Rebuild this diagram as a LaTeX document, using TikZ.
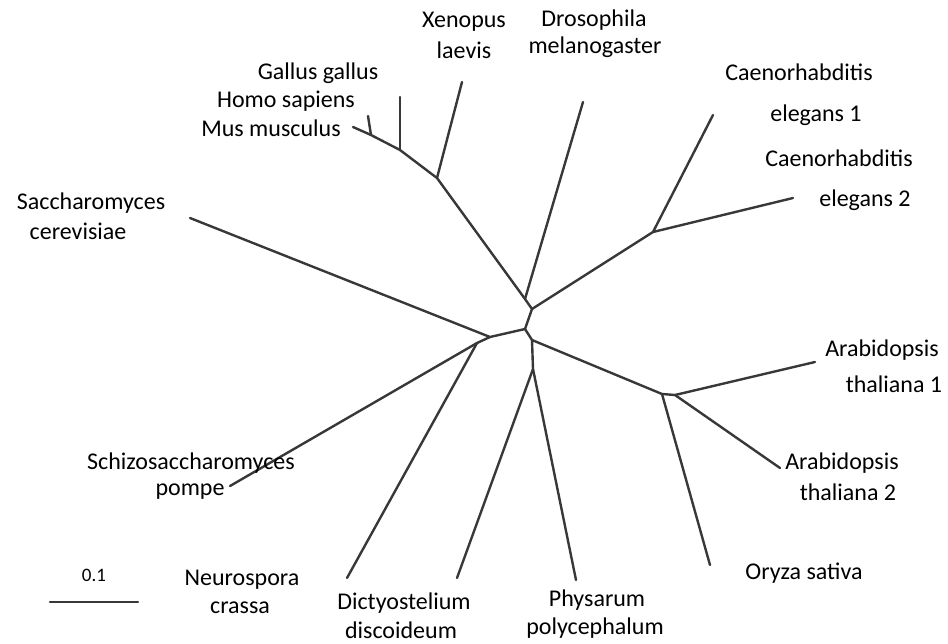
\documentclass[tikz,border=0pt]{standalone}
\usepackage{fontspec}
\setmainfont{Carlito}
\begin{document}
\begin{tikzpicture}[x=1pt,y=-1pt,
  br/.style={draw=black!78,line width=2.4pt,line cap=round,line join=round},
  lbl/.style={inner sep=0pt,font=\fontsize{24}{28}\selectfont}]
\useasboundingbox (0,0) rectangle (948,643);
% internal nodes
\coordinate (N1) at (525,299);
\coordinate (N2) at (532,309);
\coordinate (N3) at (525,329);
\coordinate (F) at (490,337);
\coordinate (F2) at (477,343);
\coordinate (N4) at (532,340);
\coordinate (DP) at (533,369);
\coordinate (P) at (662,394);
\coordinate (P2) at (675,395);
\coordinate (C) at (653,232);
\coordinate (V1) at (437,178);
\coordinate (V2) at (400,150);
\coordinate (V3) at (371,135);
% leaves
\coordinate (Dros) at (583,102);
\coordinate (Xen) at (462,82);
\coordinate (Homo) at (400,97);
\coordinate (Gal) at (368,116);
\coordinate (Mus) at (353,127);
\coordinate (Ce1) at (713,115);
\coordinate (Ce2) at (793,198);
\coordinate (Ara1) at (815,362);
\coordinate (Ara2) at (780,468);
\coordinate (Ory) at (710,565);
\coordinate (Phy) at (576,580);
\coordinate (Dic) at (457,578);
\coordinate (Neu) at (347,578);
\coordinate (Sch) at (230,486);
\coordinate (Sac) at (190,218);
% branches
\draw[br] (Mus) -- (V3) -- (V2) -- (V1) -- (N1) -- (N2) -- (N3) -- (F) -- (Sac);
\draw[br] (Gal) -- (V3);
\draw[br] (Homo) -- (V2);
\draw[br] (Xen) -- (V1);
\draw[br] (Dros) -- (N1);
\draw[br] (N2) -- (C) -- (Ce1);
\draw[br] (C) -- (Ce2);
\draw[br] (F) -- (F2) -- (Sch);
\draw[br] (F2) -- (Neu);
\draw[br] (N3) -- (N4) -- (P) -- (P2) -- (Ara1);
\draw[br] (P2) -- (Ara2);
\draw[br] (P) -- (Ory);
\draw[br] (N4) -- (DP) -- (Dic);
\draw[br] (DP) -- (Phy);
% labels
\node[lbl] (tXen1) at (464,22) {Xenopus};
\node[lbl] (tXen2) at (464,50) {laevis};
\node[lbl] (tDro1) at (594,20) {Drosophila};
\node[lbl] (tDro2) at (595,47) {melanogaster};
\node[lbl] (tGal) at (318,73) {Gallus gallus};
\node[lbl] (tHom) at (286,101) {Homo sapiens};
\node[lbl] (tMus) at (271,128) {Mus musculus};
\node[lbl] (tCe11) at (799,72) {Caenorhabditis};
\node[lbl] (tCe12) at (816,115) {elegans 1};
\node[lbl] (tCe21) at (839,158) {Caenorhabditis};
\node[lbl] (tCe22) at (865,200) {elegans 2};
\node[lbl] (tSac1) at (91,203) {Saccharomyces};
\node[lbl] (tSac2) at (78,231) {cerevisiae};
\node[lbl] (tAr11) at (882,350) {Arabidopsis};
\node[lbl] (tAr12) at (894,384) {thaliana 1};
\node[lbl] (tAr21) at (842,463) {Arabidopsis};
\node[lbl] (tAr22) at (848,492) {thaliana 2};
\node[lbl] (tOry) at (804,573) {Oryza sativa};
\node[lbl] (tPhy1) at (597,600) {Physarum};
\node[lbl] (tPhy2) at (595,628) {polycephalum};
\node[lbl] (tDic1) at (404,603) {Dictyostelium};
\node[lbl] (tDic2) at (401,630) {discoideum};
\node[lbl] (tNeu1) at (242,580) {Neurospora};
\node[lbl] (tNeu2) at (240,608) {crassa};
\node[lbl] (tSch1) at (191,463) {Schizosaccharomyces};
\node[lbl] (tSch2) at (190,492) {pompe};
\node[lbl,font=\fontsize{19}{22}\selectfont] (tSc) at (94,575) {0.1};
\coordinate (s1) at (50,602);
\coordinate (s2) at (138,602);
\draw[br] (s1) -- (s2);
\end{tikzpicture}
\end{document}
